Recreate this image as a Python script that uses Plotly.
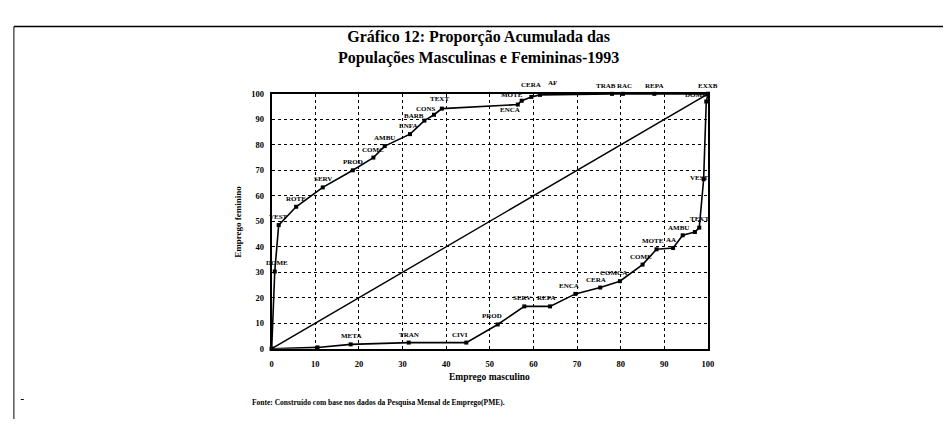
import plotly.graph_objects as go

# ---------------- data ----------------
# Upper curve (female-intensive ordering)
up_x = [0, 0.7, 1.6, 5.6, 11.7, 18.6, 23.3, 25.9, 31.7, 35.0, 37.2, 39.0, 56.4, 57.3, 59.5, 61.5, 78.0, 80.5, 87.7, 100]
up_y = [0, 30.3, 48.5, 55.7, 63.3, 70.0, 75.0, 79.5, 84.2, 89.5, 91.8, 94.2, 95.8, 97.3, 98.8, 99.6, 100, 100, 100, 100]
up_lab = ["", "DOME", "VEST", "ROTE", "SERV", "PROD", "COMC", "AMBU", "ENFA", "BARB", "CONS", "TEXT",
          "ENCA", "MOTE", "CERA", "AF", "TRAB", "RAC", "REPA", "EXXB"]

# Lower curve (male-intensive ordering)
lo_x = [0, 10.5, 18.1, 31.4, 44.6, 51.8, 57.9, 63.8, 69.6, 75.3, 79.8, 85.0, 88.2, 92.0, 94.2, 97.0, 98.0, 99.0, 99.6, 100]
lo_y = [0, 0.5, 1.7, 2.4, 2.4, 9.5, 16.6, 16.6, 21.5, 24.0, 26.5, 33.0, 39.0, 39.5, 44.5, 45.8, 47.5, 66.5, 97.0, 100]
lo_lab = ["", "", "META", "TRAN", "CIVI", "PROD", "SERV", "REPA", "ENCA", "CERA", "COMCA", "COME", "MOTE", "AA",
          "AMBU", "", "TEXT", "VEST", "DOME", ""]

diag = [0, 100]
ticks = [0, 10, 20, 30, 40, 50, 60, 70, 80, 90, 100]

title_lines = ["Gráfico 12: Proporção Acumulada das", "Populações Masculinas e Femininas-1993"]
x_title = "Emprego masculino"
y_title = "Emprego feminino"
source = "Fonte: Construído com base nos dados da Pesquisa Mensal de Emprego(PME)."

# ---------------- styling ----------------
W, H = 949, 424
SERIF = "Liberation Serif, Times New Roman, serif"
# label offsets in pixels (xshift, yshift), keyed by label text per curve
up_off = {"DOME": (2, 8), "VEST": (0, 8), "ROTE": (0, 8), "SERV": (0, 8), "PROD": (0, 8),
          "COMC": (0, 8), "AMBU": (0, 8), "ENFA": (-2, 8), "BARB": (-10, 5), "CONS": (-8, 6),
          "TEXT": (-2, 10), "ENCA": (-8, -5), "MOTE": (-10, 6), "CERA": (0, 12), "AF": (12, 12),
          "TRAB": (-6, 8), "RAC": (2, 8), "REPA": (0, 8), "EXXB": (0, 8)}
lo_off = {"META": (0, 8), "TRAN": (0, 8), "CIVI": (-6, 8), "PROD": (-6, 8), "SERV": (-2, 8),
          "REPA": (-4, 8), "ENCA": (-6, 8), "CERA": (-4, 8), "COMCA": (-6, 8), "COME": (-2, 8),
          "MOTE": (-4, 8), "AA": (-2, 8), "AMBU": (-4, 7), "TEXT": (0, 9), "VEST": (-4, 1),
          "DOME": (-10, 7)}

fig = go.Figure()

fig.add_trace(go.Scatter(x=diag, y=diag, mode="lines",
                         line=dict(color="black", width=1.4), hoverinfo="skip", showlegend=False))
for xs, ys in ((up_x, up_y), (lo_x, lo_y)):
    fig.add_trace(go.Scatter(x=xs, y=ys, mode="lines+markers",
                             line=dict(color="black", width=1.6),
                             marker=dict(symbol="square", size=4, color="black"),
                             cliponaxis=False, showlegend=False))

annotations = []
for xs, ys, labs, offs in ((up_x, up_y, up_lab, up_off), (lo_x, lo_y, lo_lab, lo_off)):
    for xv, yv, lab in zip(xs, ys, labs):
        if not lab:
            continue
        dx, dy = offs.get(lab, (0, 8))
        annotations.append(dict(x=xv, y=yv, xref="x", yref="y", text=f"<b>{lab}</b>",
                                showarrow=False, xshift=dx, yshift=dy,
                                xanchor="center", yanchor="middle",
                                font=dict(family=SERIF, size=7, color="black")))

# titles / text
annotations.append(dict(x=481 / W, y=1 - 43.5 / H, xref="paper", yref="paper",
                        xanchor="center", yanchor="middle",
                        text=f"<b>{title_lines[0]}</b><br><b>{title_lines[1]}</b>",
                        showarrow=False, font=dict(family=SERIF, size=16, color="black"),
                        align="center"))
annotations.append(dict(x=492 / W, y=1 - 381 / H, xref="paper", yref="paper",
                        xanchor="center", yanchor="middle",
                        text=f"<b>{x_title}</b>", showarrow=False,
                        font=dict(family=SERIF, size=9.5, color="black")))
annotations.append(dict(x=238 / W, y=1 - 222 / H, xref="paper", yref="paper",
                        xanchor="center", yanchor="middle",
                        text=f"<b>{y_title}</b>", showarrow=False, textangle=-90,
                        font=dict(family=SERIF, size=9, color="black")))
annotations.append(dict(x=250 / W, y=1 - 407 / H, xref="paper", yref="paper",
                        xanchor="left", yanchor="middle",
                        text=f"<b>{source}</b>", showarrow=False,
                        font=dict(family=SERIF, size=7.5, color="black")))

axis_common = dict(range=[0, 100], tickvals=ticks, showgrid=True, gridcolor="black",
                   griddash="dot", gridwidth=1, zeroline=False, showline=True,
                   linecolor="black", linewidth=1.8, mirror=True, ticks="",
                   tickfont=dict(family=SERIF, size=8.5, color="black", weight="bold"))

fig.update_layout(
    width=W, height=H, margin=dict(l=0, r=0, t=0, b=0),
    paper_bgcolor="white", plot_bgcolor="white",
    xaxis=dict(domain=[272 / W, 712 / W], ticklabelstandoff=6, **axis_common),
    yaxis=dict(domain=[1 - 352 / H, 1 - 91 / H], ticklabelstandoff=4, **axis_common),
    annotations=annotations,
    shapes=[
        dict(type="line", xref="paper", yref="paper", x0=12 / W, x1=1, y0=1 - 22 / H, y1=1 - 22 / H,
             line=dict(color="black", width=1.5)),
        dict(type="line", xref="paper", yref="paper", x0=12 / W, x1=12 / W, y0=0, y1=1 - 22 / H,
             line=dict(color="black", width=1)),
        dict(type="line", xref="paper", yref="paper", x0=19 / W, x1=22 / W, y0=1 - 404 / H, y1=1 - 404 / H,
             line=dict(color="black", width=1)),
    ],
)

fig.write_html("out.html", config={"displayModeBar": False},
               post_script="document.body.style.margin='0';document.documentElement.style.overflow='hidden';")
